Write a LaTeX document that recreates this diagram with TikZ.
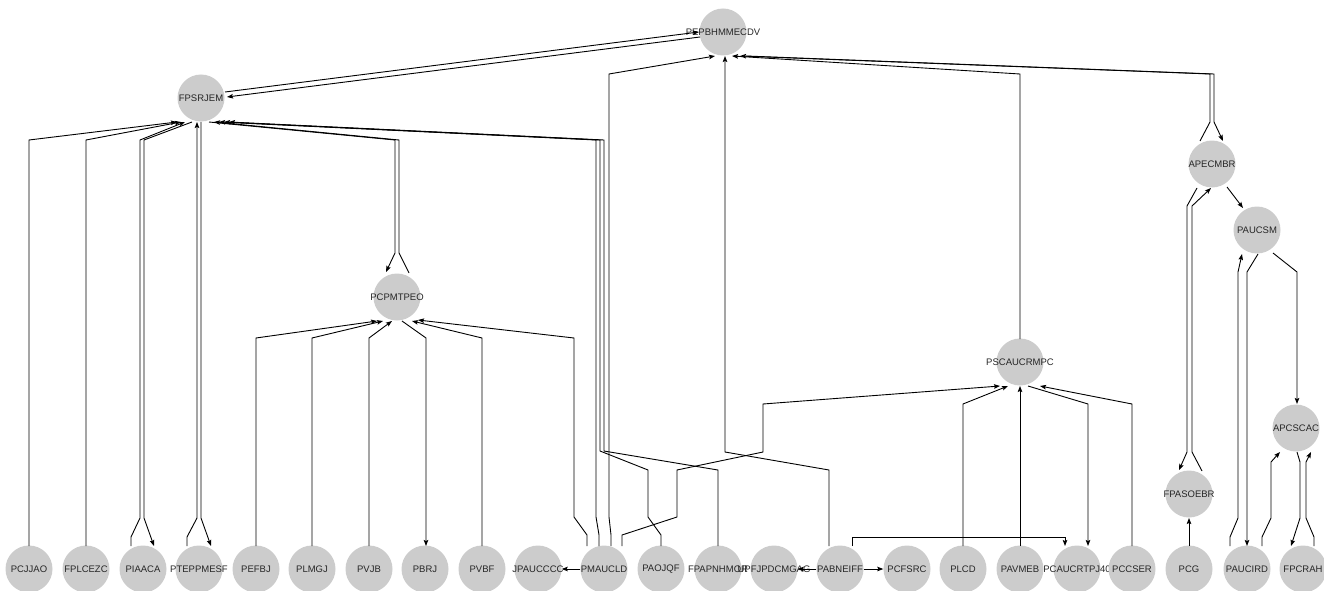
\documentclass[tikz,border=0pt]{standalone}
\usepackage{fontspec}
\setmainfont{Liberation Sans}
\usetikzlibrary{calc,arrows.meta}
\newcommand{\lbl}[1]{\makebox[0pt][c]{#1}}
\tikzset{
  vtx/.style={circle, fill=black!20, minimum size=47pt, inner sep=0pt, text=black!85,
    font=\fontsize{9.5}{11}\selectfont},
  arr/.style={draw=black, line width=0.9pt, -{Stealth[length=6pt,width=4.5pt,inset=1pt]}},
}
\begin{document}
\begin{tikzpicture}[x=1pt,y=-1pt]
\clip (0,0) rectangle (1324,591);
\useasboundingbox (0,0) rectangle (1324,591);
% upper nodes
\node[vtx] (PEPB) at (723,32) {\lbl{PEPBHMMECDV}};
\node[vtx] (FPSRJEM) at (201,98) {\lbl{FPSRJEM}};
\node[vtx] (APECMBR) at (1212,164) {\lbl{APECMBR}};
\node[vtx] (PAUCSM) at (1257,230) {\lbl{PAUCSM}};
\node[vtx] (PCPMTPEO) at (397,297) {\lbl{PCPMTPEO}};
\node[vtx] (PSCAUCRMPC) at (1020,362) {\lbl{PSCAUCRMPC}};
\node[vtx] (APCSCAC) at (1296,428) {\lbl{APCSCAC}};
\node[vtx] (FPASOEBR) at (1189,494) {\lbl{FPASOEBR}};
% bottom row
\node[vtx] (PCJJAO) at (29,569) {\lbl{PCJJAO}};
\node[vtx] (FPLCEZC) at (86,569) {\lbl{FPLCEZC}};
\node[vtx] (PIAACA) at (143,569) {\lbl{PIAACA}};
\node[vtx] (PTEPPMESF) at (199,569) {\lbl{PTEPPMESF}};
\node[vtx] (PEFBJ) at (256,569) {\lbl{PEFBJ}};
\node[vtx] (PLMGJ) at (312,569) {\lbl{PLMGJ}};
\node[vtx] (PVJB) at (369,569) {\lbl{PVJB}};
\node[vtx] (PBRJ) at (425,569) {\lbl{PBRJ}};
\node[vtx] (PVBF) at (482,569) {\lbl{PVBF}};
\node[vtx] (JPAUCCCC) at (538,569) {\lbl{JPAUCCCC}};
\node[vtx] (PMAUCLD) at (604,569) {\lbl{PMAUCLD}};
\node[vtx] (PAOJQF) at (661,569) {\lbl{PAOJQF}};
\node[vtx] (FPAPNHMOR) at (718,569) {\lbl{FPAPNHMOR}};
\node[vtx] (UPFJPDCMGAG) at (774,569) {\lbl{UPFJPDCMGAG}};
\node[vtx] (PABNEIFF) at (840,569) {\lbl{PABNEIFF}};
\node[vtx] (PCFSRC) at (907,569) {\lbl{PCFSRC}};
\node[vtx] (PLCD) at (963,569) {\lbl{PLCD}};
\node[vtx] (PAVMEB) at (1020,569) {\lbl{PAVMEB}};
\node[vtx] (PCAUCRTPJ40) at (1077,569) {\lbl{PCAUCRTPJ40}};
\node[vtx] (PCCSER) at (1132,569) {\lbl{PCCSER}};
\node[vtx] (PCG) at (1189,569) {\lbl{PCG}};
\node[vtx] (PAUCIRD) at (1247,569) {\lbl{PAUCIRD}};
\node[vtx] (FPCRAH) at (1303,569) {\lbl{FPCRAH}};
% edges into / out of FPSRJEM
\draw[arr] ($(PCJJAO)+(0,-23)$) -- (29,140) -- ($(FPSRJEM)+(-24,24)$);
\draw[arr] ($(FPLCEZC)+(0,-23)$) -- (86,140) -- ($(FPSRJEM)+(-20,24)$);
\draw[arr] ($(PIAACA)+(-12,-23)$) -- (131,537) -- (140,518) -- (140,140) -- ($(FPSRJEM)+(-16,24)$);
\draw[arr] ($(FPSRJEM)+(-9,24)$) -- (144,140) -- (144,518) -- ($(PIAACA)+(11,-23)$);
\draw[arr] ($(PTEPPMESF)+(-12,-23)$) -- (187,537) -- (197,518) -- ($(FPSRJEM)+(-4,24)$);
\draw[arr] ($(FPSRJEM)+(0,24)$) -- (201,518) -- ($(PTEPPMESF)+(12,-23)$);
\draw[arr] ($(FPSRJEM)+(8,24)$) -- (395,140) -- (395,253) -- ($(PCPMTPEO)+(-11,-25)$);
\draw[arr] ($(PCPMTPEO)+(12,-24)$) -- (399,253) -- (399,140) -- ($(FPSRJEM)+(13,24)$);
\draw[arr] ($(PMAUCLD)+(-5,-23)$) -- (599,535) -- (596,517) -- (596,140) -- ($(FPSRJEM)+(18,24)$);
\draw[arr] ($(PAOJQF)+(0,-23)$) -- (661,535) -- (648,517) -- (648,470) -- (600,451) -- (600,140) -- ($(FPSRJEM)+(23,24)$);
\draw[arr] ($(FPAPNHMOR)+(0,-23)$) -- (718,470) -- (604,451) -- (604,140) -- ($(FPSRJEM)+(28,24)$);
% PCPMTPEO
\draw[arr] ($(PEFBJ)+(0,-23)$) -- (256,338) -- ($(PCPMTPEO)+(-20,24)$);
\draw[arr] ($(PLMGJ)+(0,-23)$) -- (312,338) -- ($(PCPMTPEO)+(-14,24)$);
\draw[arr] ($(PVJB)+(0,-23)$) -- (369,338) -- ($(PCPMTPEO)+(-5,24)$);
\draw[arr] ($(PCPMTPEO)+(5,24)$) -- (426,338) -- ($(PBRJ)+(1,-23)$);
\draw[arr] ($(PVBF)+(0,-23)$) -- (482,338) -- ($(PCPMTPEO)+(15,24)$);
\draw[arr] ($(PMAUCLD)+(-17,-23)$) -- (587,535) -- (574,517) -- (574,338) -- ($(PCPMTPEO)+(21,23)$);
% PEPBHMMECDV
\draw[arr] ($(FPSRJEM)+(24,-6)$) -- ($(PEPB)+(-24,0)$);
\draw[arr] ($(PEPB)+(-23,5)$) -- ($(FPSRJEM)+(26,-1)$);
\draw[arr] ($(PMAUCLD)+(7,-23)$) -- (611,535) -- (609,517) -- (609,74) -- ($(PEPB)+(-8,24)$);
\draw[arr] ($(PABNEIFF)+(-11,-23)$) -- (829,470) -- (725,452) -- ($(PEPB)+(2,24)$);
\draw[arr] ($(PSCAUCRMPC)+(0,-23)$) -- (1020,74) -- ($(PEPB)+(9,24)$);
\draw[arr] ($(APECMBR)+(-12,-23)$) -- (1210,122) -- (1210,74) -- ($(PEPB)+(17,24)$);
\draw[arr] ($(PEPB)+(23,24)$) -- (1214,74) -- (1214,122) -- ($(APECMBR)+(11,-23)$);
% APECMBR / FPASOEBR / PAUCSM
\draw[arr] ($(APECMBR)+(-15,24)$) -- (1187,206) -- (1187,452) -- ($(FPASOEBR)+(-10,-24)$);
\draw[arr] ($(FPASOEBR)+(13,-23)$) -- (1192,452) -- (1192,206) -- ($(APECMBR)+(-1,24)$);
\draw[arr] ($(APECMBR)+(15,23)$) -- ($(PAUCSM)+(-14,-22)$);
\draw[arr] ($(PCG)+(0,-23)$) -- ($(FPASOEBR)+(0,24)$);
\draw[arr] ($(PAUCIRD)+(-17,-23)$) -- (1230,537) -- (1238,518) -- (1238,272) -- ($(PAUCSM)+(-15,24)$);
\draw[arr] ($(PAUCSM)+(1,24)$) -- (1247,272) -- ($(PAUCIRD)+(0,-23)$);
\draw[arr] ($(PAUCSM)+(16,23)$) -- (1297,272) -- ($(APCSCAC)+(1,-24)$);
% APCSCAC
\draw[arr] ($(PAUCIRD)+(15,-23)$) -- (1262,537) -- (1271,518) -- (1271,462) -- ($(APCSCAC)+(-16,24)$);
\draw[arr] ($(APCSCAC)+(1,24)$) -- (1300,462) -- (1300,518) -- ($(FPCRAH)+(-12,-23)$);
\draw[arr] ($(FPCRAH)+(11,-23)$) -- (1314,537) -- (1306,518) -- (1306,462) -- ($(APCSCAC)+(15,24)$);
% PSCAUCRMPC
\draw[arr] ($(PMAUCLD)+(18,-23)$) -- (622,535) -- (677,517) -- (677,470) -- (763,452) -- (763,404) -- ($(PSCAUCRMPC)+(-20,24)$);
\draw[arr] ($(PLCD)+(0,-23)$) -- (963,404) -- ($(PSCAUCRMPC)+(-12,24)$);
\draw[arr] ($(PAVMEB)+(0,-23)$) -- ($(PSCAUCRMPC)+(0,24)$);
\draw[arr] ($(PSCAUCRMPC)+(8,24)$) -- (1088,404) -- ($(PCAUCRTPJ40)+(11,-23)$);
\draw[arr] ($(PCCSER)+(0,-23)$) -- (1132,404) -- ($(PSCAUCRMPC)+(20,24)$);
\draw[arr] ($(PABNEIFF)+(12,-23)$) -- (852,537) -- (1065,537) -- ($(PCAUCRTPJ40)+(-12,-23)$);
% horizontal edges in the bottom row
\draw[arr] (PMAUCLD.west) -- (JPAUCCCC.east);
\draw[arr] (PABNEIFF.west) -- (UPFJPDCMGAG.east);
\draw[arr] (PABNEIFF.east) -- (PCFSRC.west);
\end{tikzpicture}
\end{document}
